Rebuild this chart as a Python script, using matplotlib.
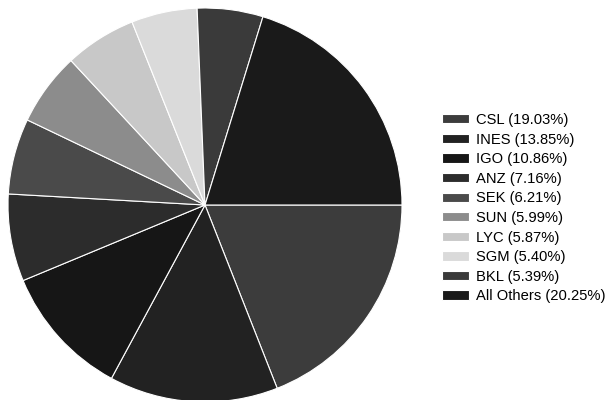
import matplotlib
matplotlib.use("Agg")
import matplotlib.pyplot as plt

labels = ["CSL", "INES", "IGO", "ANZ", "SEK", "SUN", "LYC", "SGM", "BKL", "All Others"]
values = [19.03, 13.85, 10.86, 7.16, 6.21, 5.99, 5.87, 5.40, 5.39, 20.25]
colors = ["#3c3c3c", "#222222", "#161616", "#2c2c2c", "#4a4a4a", "#8c8c8c",
          "#c8c8c8", "#dadada", "#3a3a3a", "#1a1a1a"]

plt.rcParams['font.family'] = ['Liberation Sans', 'DejaVu Sans']
fig = plt.figure(figsize=(6.11, 4.0), dpi=100)
ax = fig.add_axes([8/611, -2/400, 394/611, 394/400])
wedges, _ = ax.pie(values, colors=colors, startangle=0, counterclock=False,
                   wedgeprops=dict(edgecolor="white", linewidth=0.8))
ax.set_xlim(-1, 1)
ax.set_ylim(-1, 1)
ax.set_aspect("equal")

legend_labels = [f"{l} ({v:.2f}%)" for l, v in zip(labels, values)]
fig.legend(wedges, legend_labels, loc="upper left", bbox_to_anchor=(442/611, 1 - 113/400),
           frameon=False, fontsize=10.6, handlelength=1.8, handleheight=0.6,
           labelspacing=0.38, handletextpad=0.5, borderaxespad=0, borderpad=0)
fig.savefig("out.png", dpi=100)
